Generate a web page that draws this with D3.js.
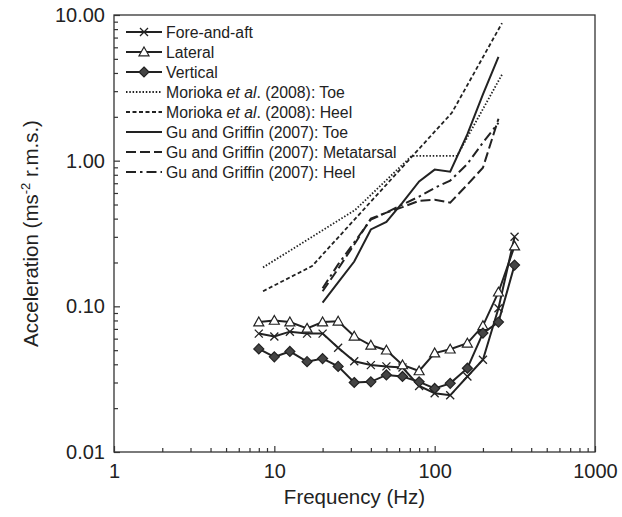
<!DOCTYPE html>
<html lang="en">
<head>
	<meta charset="UTF-8">
	<title>Acceleration vs frequency</title>
	<script src="https://d3js.org/d3.v7.min.js"></script>
	<style>
		body, html {
			margin: 0;
			padding: 0;
			background: #fff;
		}
		svg {
			display: block;
			font-family: "Liberation Sans", Arial, sans-serif;
		}
		.tick text {
			font-size: 20px;
			fill: #222;
		}
		.legend text {
			font-size: 15.8px;
			fill: #222;
		}
	</style>
</head>
<body>
<div id="chart"></div>
<script>
	// third-octave centre frequencies of the measured series
	const freqs = [8, 10, 12.5, 16, 20, 25, 31.5, 40, 50, 63, 80, 100, 125, 160, 200, 250, 315];
	const foreAft = [0.065, 0.062, 0.067, 0.065, 0.065, 0.052, 0.042, 0.0395, 0.0387, 0.038, 0.0284, 0.0253, 0.0245, 0.033, 0.043, 0.097, 0.30];
	const lateral = [0.078, 0.080, 0.078, 0.0706, 0.078, 0.079, 0.0623, 0.054, 0.050, 0.0396, 0.036, 0.0478, 0.0508, 0.0558, 0.0735, 0.125, 0.259];
	const vertical = [0.051, 0.045, 0.049, 0.0417, 0.0438, 0.0387, 0.030, 0.0303, 0.0338, 0.0330, 0.0303, 0.0273, 0.0296, 0.0376, 0.0655, 0.078, 0.192];

	// Morioka et al. (2008)
	const moriokaToeFreqs = [8.5, 32, 72, 138, 263];
	const moriokaToe = [0.185, 0.46, 1.08, 1.08, 3.9];
	const moriokaHeelFreqs = [8.5, 17.2, 128, 263];
	const moriokaHeel = [0.127, 0.189, 2.13, 8.8];

	// Gu and Griffin (2007)
	const guFreqs = [20, 25, 31.5, 40, 50, 63, 80, 100, 125, 160, 200, 250];
	const guToe = [0.106, 0.146, 0.203, 0.337, 0.38, 0.516, 0.72, 0.868, 0.84, 1.52, 2.85, 5.16];
	const guMetatarsal = [0.127, 0.181, 0.266, 0.40, 0.44, 0.48, 0.53, 0.54, 0.515, 0.685, 0.895, 1.94];
	const guHeel = [0.133, 0.194, 0.275, 0.394, 0.44, 0.50, 0.567, 0.65, 0.73, 0.95, 1.33, 1.82];

	const xMajor = [1, 10, 100, 1000];
	const yMajor = [0.01, 0.1, 1, 10];

	const width = 622, height = 517;
	const margin = {left: 114, right: 27, top: 15, bottom: 65};
	const ink = "#222";

	const svg = d3.select("#chart").append("svg")
		.attr("width", width)
		.attr("height", height);

	const x = d3.scaleLog().domain([1, 1000]).range([margin.left, width - margin.right]);
	const y = d3.scaleLog().domain([0.01, 10]).range([height - margin.bottom, margin.top]);

	// minor ticks 2..9 in each decade
	const xMinor = [], yMinor = [];
	[1, 10, 100].forEach(d => { for (let k = 2; k < 10; k++) xMinor.push(d * k); });
	[0.01, 0.1, 1].forEach(d => { for (let k = 2; k < 10; k++) yMinor.push(+(d * k).toPrecision(3)); });

	const plotB = y.range()[0], plotT = y.range()[1];
	const plotL = x.range()[0], plotR = x.range()[1];

	// frame
	svg.append("rect")
		.attr("x", plotL).attr("y", plotT)
		.attr("width", plotR - plotL).attr("height", plotB - plotT)
		.attr("fill", "none").attr("stroke", "#333").attr("stroke-width", 1.3);

	// axes: ticks point into the plot
	const gx = svg.append("g").attr("transform", `translate(0,${plotB})`);
	gx.call(d3.axisBottom(x).tickValues(xMinor).tickSize(-4).tickFormat(""));
	gx.append("g").call(d3.axisBottom(x).tickValues(xMajor).tickSize(-6).tickPadding(12).tickFormat(d3.format("d")));

	const gy = svg.append("g").attr("transform", `translate(${plotL},0)`);
	gy.call(d3.axisLeft(y).tickValues(yMinor).tickSize(-4).tickFormat(""));
	gy.append("g").call(d3.axisLeft(y).tickValues(yMajor).tickSize(-6).tickPadding(9).tickFormat(d3.format(".2f")));

	svg.selectAll(".domain").remove();
	svg.selectAll(".tick line").attr("stroke", "#333").attr("stroke-width", 1.2);
	svg.selectAll(".tick text").attr("fill", ink);

	// axis titles
	svg.append("text")
		.attr("x", (plotL + plotR) / 2)
		.attr("y", 504)
		.attr("text-anchor", "middle")
		.attr("font-size", 20.5)
		.attr("fill", ink)
		.text("Frequency (Hz)");

	const yTitle = svg.append("text")
		.attr("transform", `translate(38,${(plotT + plotB) / 2}) rotate(-90)`)
		.attr("text-anchor", "middle")
		.attr("font-size", 20.5)
		.attr("fill", ink);
	yTitle.append("tspan").text("Acceleration (ms");
	yTitle.append("tspan").attr("font-size", 13).attr("dy", -8).text("-2");
	yTitle.append("tspan").attr("dy", 8).text(" r.m.s.)");

	const line = d3.line().x(d => x(d[0])).y(d => y(d[1]));

	const series = [
		{name: "foreAft", f: freqs, v: foreAft, dash: null, width: 2, marker: "cross"},
		{name: "lateral", f: freqs, v: lateral, dash: null, width: 2, marker: "triangle"},
		{name: "vertical", f: freqs, v: vertical, dash: null, width: 2, marker: "diamond"},
		{name: "moriokaToe", f: moriokaToeFreqs, v: moriokaToe, dash: "1.5,1.8", width: 1.8},
		{name: "moriokaHeel", f: moriokaHeelFreqs, v: moriokaHeel, dash: "4,2.5", width: 1.8},
		{name: "guToe", f: guFreqs, v: guToe, dash: null, width: 2},
		{name: "guMetatarsal", f: guFreqs, v: guMetatarsal, dash: "10,4", width: 2},
		{name: "guHeel", f: guFreqs, v: guHeel, dash: "10,4,2.5,4", width: 2}
	];

	const markerPath = {
		cross: "M-4,-4L4,4M-4,4L4,-4",
		triangle: "M0,-5L5,3.8L-5,3.8Z",
		diamond: "M0,-5L5,0L0,5L-5,0Z"
	};
	const markerFill = {cross: "none", triangle: "#fff", diamond: "#444"};

	function drawMarker(g, type, cx, cy) {
		g.append("path")
			.attr("transform", `translate(${cx},${cy})`)
			.attr("d", markerPath[type])
			.attr("fill", markerFill[type])
			.attr("stroke", ink)
			.attr("stroke-width", type === "cross" ? 1.3 : 1.2);
	}

	// reference lines first, measured series on top
	const drawOrder = series.slice(3).concat(series.slice(0, 3));
	drawOrder.forEach(s => {
		const pts = s.f.map((f, i) => [f, s.v[i]]);
		svg.append("path")
			.datum(pts)
			.attr("d", line)
			.attr("fill", "none")
			.attr("stroke", ink)
			.attr("stroke-width", s.width)
			.attr("stroke-dasharray", s.dash);
		if (s.marker) {
			const g = svg.append("g");
			pts.forEach(p => drawMarker(g, s.marker, x(p[0]), y(p[1])));
		}
	});

	// legend
	const legendLabels = [
		["Fore-and-aft"],
		["Lateral"],
		["Vertical"],
		["Morioka ", "et al", ". (2008): Toe"],
		["Morioka ", "et al", ". (2008): Heel"],
		["Gu and Griffin (2007): Toe"],
		["Gu and Griffin (2007): Metatarsal"],
		["Gu and Griffin (2007): Heel"]
	];

	const legend = svg.append("g").attr("class", "legend");
	series.forEach((s, i) => {
		const ly = 32 + i * 20;
		legend.append("line")
			.attr("x1", 126).attr("x2", 162)
			.attr("y1", ly).attr("y2", ly)
			.attr("stroke", ink)
			.attr("stroke-width", s.width)
			.attr("stroke-dasharray", s.dash);
		if (s.marker) drawMarker(legend, s.marker, 144, ly);
		const t = legend.append("text")
			.attr("x", 166).attr("y", ly)
			.attr("dy", "0.36em");
		legendLabels[i].forEach((part, j) => {
			const ts = t.append("tspan").text(part);
			if (j === 1) ts.attr("font-style", "italic");
		});
	});
</script>
</body>
</html>
